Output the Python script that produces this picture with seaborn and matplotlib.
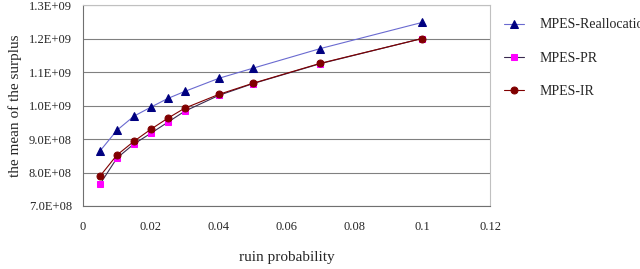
import numpy as np
import pandas as pd
import seaborn as sns
import matplotlib.pyplot as plt
from matplotlib.ticker import FuncFormatter, MultipleLocator

# datos
ruin_prob = [0.005, 0.01, 0.015, 0.02, 0.025, 0.03, 0.04, 0.05, 0.07, 0.1]
realloc = [8.64e8, 9.26e8, 9.68e8, 9.95e8, 10.21e8, 10.42e8, 10.81e8, 11.11e8, 11.70e8, 12.48e8]
pr = [7.65e8, 8.43e8, 8.85e8, 9.17e8, 9.50e8, 9.83e8, 10.30e8, 10.65e8, 11.25e8, 12.00e8]
ir = [7.89e8, 8.52e8, 8.93e8, 9.29e8, 9.62e8, 9.92e8, 10.33e8, 10.66e8, 11.26e8, 12.00e8]

series = ["MPES-Reallocation", "MPES-PR", "MPES-IR"]

sns.set_style("white")
plt.rcParams['font.family'] = ['Liberation Serif', 'DejaVu Serif']

fig = plt.figure(figsize=(6.4, 2.69), dpi=100)
ax = fig.add_axes([83 / 640, 1 - 206 / 269, (490 - 83) / 640, (206 - 5) / 269])

styles = {
    "MPES-Reallocation": dict(color="#6a6ad0", marker="^", markerfacecolor="#000080", markeredgecolor="#000080", markersize=5.5),
    "MPES-PR": dict(color="#3a2a50", marker="s", markerfacecolor="#ff00ff", markeredgecolor="#ff00ff", markersize=5),
    "MPES-IR": dict(color="#800000", marker="o", markerfacecolor="#800000", markeredgecolor="#800000", markersize=5),
}

for name, vals in zip(series, [realloc, pr, ir]):
    df = pd.DataFrame({"x": ruin_prob, "y": vals})
    sns.lineplot(data=df, x="x", y="y", ax=ax, label=name, linewidth=0.8, **styles[name])

ax.set_xlim(0, 0.12)
ax.set_ylim(7e8, 1.3e9)
ax.xaxis.set_major_locator(MultipleLocator(0.02))
ax.yaxis.set_major_locator(MultipleLocator(1e8))
ax.xaxis.set_major_formatter(FuncFormatter(lambda v, p: f"{v:g}"))
ax.yaxis.set_major_formatter(FuncFormatter(lambda v, p: f"{v:.1E}"))
ax.grid(axis="y", color="#808080", linewidth=0.8)
ax.set_axisbelow(True)

for s in ["top", "right"]:
    ax.spines[s].set_color("#c0c0c0")
for s in ["left", "bottom"]:
    ax.spines[s].set_color("#707070")
ax.tick_params(axis="x", direction="in", length=3, labelsize=9, pad=11, color="#707070")
ax.tick_params(axis="y", direction="in", length=0, labelsize=9, pad=8)

ax.set_xlabel("ruin probability", fontsize=11, labelpad=13)
ax.set_ylabel("the mean of the surplus", fontsize=11, labelpad=5)

handles, labels = ax.get_legend_handles_labels()
ax.get_legend().remove()
fig.legend(handles, labels, loc="upper left", bbox_to_anchor=(491 / 640, 1 - 6 / 269),
           frameon=False, fontsize=10, labelspacing=1.45, handlelength=1.5, handletextpad=1.1)

plt.savefig("out.png", dpi=100)
